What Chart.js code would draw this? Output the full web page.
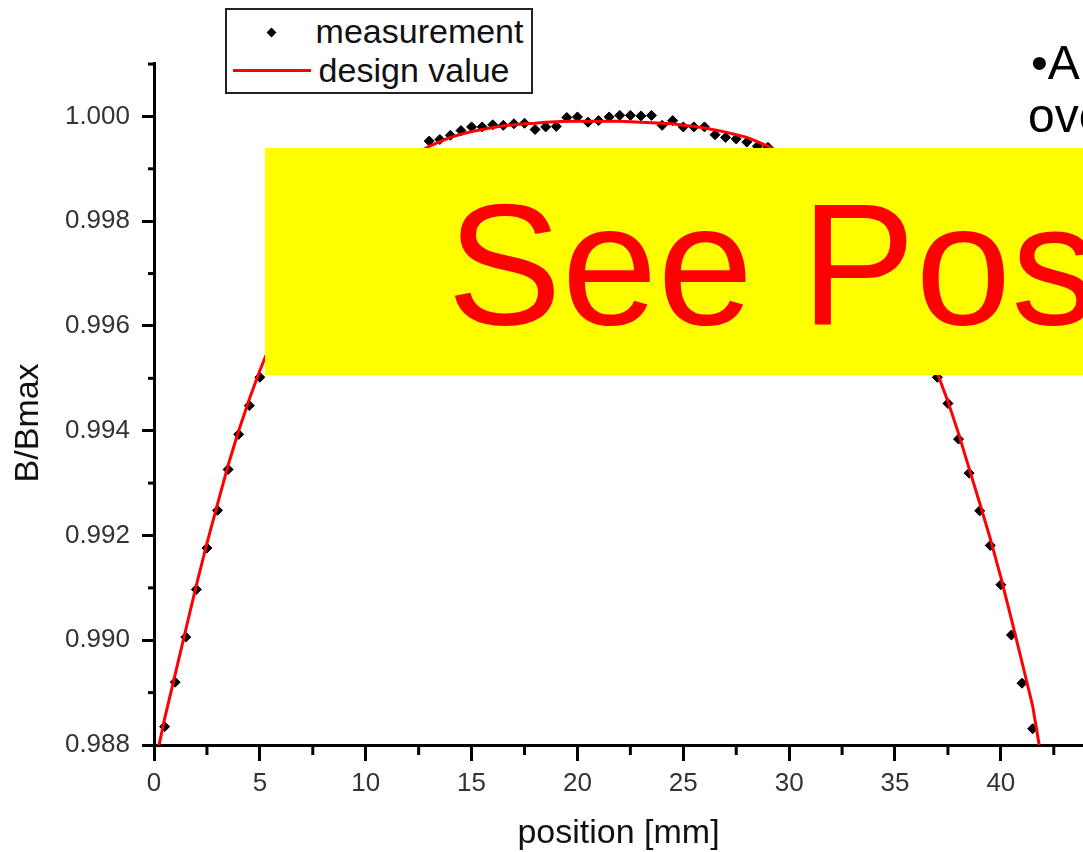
<!DOCTYPE html>
<html>
<head>
<meta charset="utf-8">
<script src="https://cdn.jsdelivr.net/npm/chart.js@4.4.1/dist/chart.umd.min.js"></script>
<style>
html,body{margin:0;padding:0;background:#fff;}
#wrap{position:relative;width:1083px;height:852px;overflow:hidden;background:#fff;}
#c{position:absolute;left:0;top:0;}
.t{position:absolute;white-space:nowrap;font-family:"Liberation Sans",Arial,sans-serif;line-height:1;margin:0;}
#legendBox{position:absolute;left:225px;top:8px;width:308px;height:86px;box-sizing:border-box;border:2px solid #222;background:#fff;}
#legMarker{position:absolute;left:268.2px;top:28.8px;width:7px;height:7px;background:#000;transform:rotate(45deg);}
#legLine{position:absolute;left:233px;top:69.2px;width:78px;height:3px;background:#ff0000;}
#yellow{position:absolute;left:265px;top:148px;width:818px;height:227px;background:#ffff00;overflow:hidden;}
#seePos{position:absolute;left:182px;top:30.4px;font-size:172px;color:#ff0000;}
</style>
</head>
<body>
<div id="wrap">
  <canvas id="c" width="1083" height="852"></canvas>
  <div id="legendBox"></div>
  <div id="legMarker"></div>
  <div id="legLine"></div>
  <div class="t" id="leg0" style="left:315.6px;top:13.9px;font-size:34px;color:#111;"></div>
  <div class="t" id="leg1" style="left:318.6px;top:52.9px;font-size:34px;color:#111;"></div>
  <div id="yellow"><div class="t" id="seePos">See Pos</div></div>
  <div class="t" style="left:1031px;top:39.4px;font-size:48px;color:#000;">•A</div>
  <div class="t" style="left:1028px;top:92.4px;font-size:48px;color:#000;">ove</div>
</div>
<script>
// ---- data ----
const positions = [
  0.5,1.0,1.5,2.0,2.5,3.0,3.5,4.0,4.5,5.0,
  5.5,6.0,6.5,7.0,7.5,8.0,8.5,9.0,9.5,10.0,
  10.5,11.0,11.5,12.0,12.5,13.0,13.5,14.0,14.5,15.0,
  15.5,16.0,16.5,17.0,17.5,18.0,18.5,19.0,19.5,20.0,
  20.5,21.0,21.5,22.0,22.5,23.0,23.5,24.0,24.5,25.0,
  25.5,26.0,26.5,27.0,27.5,28.0,28.5,29.0,29.5,30.0,
  30.5,31.0,31.5,32.0,32.5,33.0,33.5,34.0,34.5,35.0,
  35.5,36.0,36.5,37.0,37.5,38.0,38.5,39.0,39.5,40.0,
  40.5,41.0,41.5
];
const measurement = [
  0.98835,0.98920,0.99006,0.99097,0.99176,0.99248,0.99326,0.99393,0.99448,0.99502,
  0.99550,0.99598,0.99641,0.99682,0.99718,0.99752,0.99782,0.99808,0.99832,0.99853,
  0.99872,0.99889,0.99902,0.99914,0.99928,0.99953,0.99956,0.99964,0.99973,0.99980,
  0.99980,0.99984,0.99983,0.99986,0.99987,0.99975,0.99980,0.99981,0.99998,0.99999,
  0.99989,0.99992,0.99999,1.00002,1.00002,1.00001,1.00002,0.99983,0.99992,0.99980,
  0.99980,0.99980,0.99965,0.99960,0.99957,0.99951,0.99943,0.99941,0.99926,0.99912,
  0.99897,0.99882,0.99864,0.99844,0.99822,0.99797,0.99770,0.99740,0.99706,0.99668,
  0.99628,0.99595,0.99553,0.99502,0.99452,0.99384,0.99319,0.99247,0.99181,0.99106,
  0.99010,0.98918,0.98831
];
const designPositions = [
  0.24,0.5,1.0,1.5,2.0,2.5,3.0,3.5,4.0,4.5,5.0,
  5.5,6.0,6.5,7.0,7.5,8.0,8.5,9.0,9.5,10.0,
  10.5,11.0,11.5,12.0,12.5,13.0,13.5,14.0,14.5,15.0,
  15.5,16.0,16.5,17.0,17.5,18.0,18.5,19.0,19.5,20.0,
  20.5,21.0,21.5,22.0,22.5,23.0,23.5,24.0,24.5,25.0,
  25.5,26.0,26.5,27.0,27.5,28.0,28.5,29.0,29.5,30.0,
  30.5,31.0,31.5,32.0,32.5,33.0,33.5,34.0,34.5,35.0,
  35.5,36.0,36.5,37.0,37.5,38.0,38.5,39.0,39.5,40.0,
  40.5,41.0,41.5,41.81
];
const designValues = [
  0.98800,0.98850,0.98935,0.99020,0.99105,0.99185,0.99260,0.99334,0.99400,0.99460,0.99515,
  0.99565,0.99610,0.99652,0.99690,0.99725,0.99757,0.99786,0.99812,0.99835,0.99856,
  0.99874,0.99890,0.99905,0.99918,0.99931,0.99943,0.99952,0.99960,0.99966,0.99971,
  0.99975,0.99979,0.99982,0.99984,0.99986,0.99987,0.99989,0.99990,0.99991,0.99991,
  0.99991,0.99991,0.99991,0.99991,0.99990,0.99989,0.99988,0.99987,0.99986,0.99983,
  0.99981,0.99978,0.99974,0.99970,0.99965,0.99960,0.99952,0.99943,0.99932,0.99920,
  0.99906,0.99891,0.99875,0.99857,0.99836,0.99813,0.99787,0.99758,0.99726,0.99690,
  0.99650,0.99605,0.99560,0.99510,0.99456,0.99395,0.99328,0.99262,0.99194,0.99120,
  0.99040,0.98958,0.98875,0.98800
];
const seriesLabels = ['measurement', 'design value'];
const xMajorTicks = [0,5,10,15,20,25,30,35,40];
const xMinorTicks = [2.5,7.5,12.5,17.5,22.5,27.5,32.5,37.5,42.5];
const yMajorTicks = [0.988,0.990,0.992,0.994,0.996,0.998,1.000];
const yMinorTicks = [0.989,0.991,0.993,0.995,0.997,0.999,1.001];
const xTitle = 'position [mm]';
const yTitle = 'B/Bmax';

// ---- chart ----
const FONT = '"Liberation Sans", Arial, sans-serif';

const minorTickPlugin = {
  id: 'minorTicks',
  afterDraw(chart) {
    const {ctx, chartArea, scales} = chart;
    ctx.save();
    ctx.strokeStyle = '#000';
    ctx.lineWidth = 3;
    xMinorTicks.forEach(v => {
      const px = scales.x.getPixelForValue(v);
      if (px > chartArea.right) return;
      ctx.beginPath();
      ctx.moveTo(px, chartArea.bottom);
      ctx.lineTo(px, chartArea.bottom + 10);
      ctx.stroke();
    });
    yMinorTicks.forEach(v => {
      const py = scales.y.getPixelForValue(v);
      if (py < chartArea.top - 1) return;
      ctx.beginPath();
      ctx.moveTo(chartArea.left, py);
      ctx.lineTo(chartArea.left - 6, py);
      ctx.stroke();
    });
    ctx.restore();
  }
};

const chart = new Chart(document.getElementById('c').getContext('2d'), {
  type: 'scatter',
  data: {
    datasets: [
      {
        label: seriesLabels[0],
        data: positions.map((x, i) => ({x: x, y: measurement[i]})),
        pointStyle: 'rectRot',
        pointRadius: 5,
        pointBackgroundColor: '#000',
        pointBorderColor: '#000',
        pointBorderWidth: 1,
        showLine: false,
        order: 2
      },
      {
        label: seriesLabels[1],
        type: 'line',
        data: designPositions.map((x, i) => ({x: x, y: designValues[i]})),
        borderColor: '#ff0000',
        backgroundColor: '#ff0000',
        borderWidth: 3,
        pointRadius: 0,
        fill: false,
        tension: 0,
        order: 1
      }
    ]
  },
  options: {
    responsive: false,
    animation: false,
    devicePixelRatio: 1,
    layout: {autoPadding: false, padding: {top: 63, right: 0, bottom: 0, left: 0}},
    plugins: {legend: {display: false}, tooltip: {enabled: false}},
    scales: {
      x: {
        type: 'linear',
        min: 0,
        max: 43.88,
        afterBuildTicks: s => { s.ticks = xMajorTicks.map(v => ({value: v})); },
        afterFit: s => { s.height = 107; s.paddingRight = 0; s.paddingLeft = 0; },
        ticks: {
          callback: v => String(v),
          font: {family: FONT, size: 26},
          color: '#333',
          padding: 7,
          maxRotation: 0,
          autoSkip: false
        },
        grid: {display: true, drawOnChartArea: false, drawTicks: true, tickLength: 16, tickWidth: 3, tickColor: '#000'},
        border: {display: true, color: '#000', width: 3},
        title: {display: true, text: xTitle, font: {family: FONT, size: 34}, color: '#111', padding: {top: 0, bottom: -2}}
      },
      y: {
        type: 'linear',
        min: 0.988,
        max: 1.00102,
        afterBuildTicks: s => { s.ticks = yMajorTicks.map(v => ({value: v})); },
        afterFit: s => { s.width = 154; },
        ticks: {
          callback: v => Number(v).toFixed(3),
          font: {family: FONT, size: 26},
          color: '#333',
          padding: 12,
          autoSkip: false
        },
        grid: {display: true, drawOnChartArea: false, drawTicks: true, tickLength: 12, tickWidth: 3, tickColor: '#000'},
        border: {display: true, color: '#000', width: 3},
        title: {display: true, text: yTitle + '    ', font: {family: FONT, size: 34}, color: '#111', padding: {top: 8, bottom: 0}}
      }
    }
  },
  plugins: [minorTickPlugin]
});

// legend texts from the chart's datasets
document.getElementById('leg0').textContent = chart.data.datasets[0].label;
document.getElementById('leg1').textContent = chart.data.datasets[1].label;
</script>
</body>
</html>
